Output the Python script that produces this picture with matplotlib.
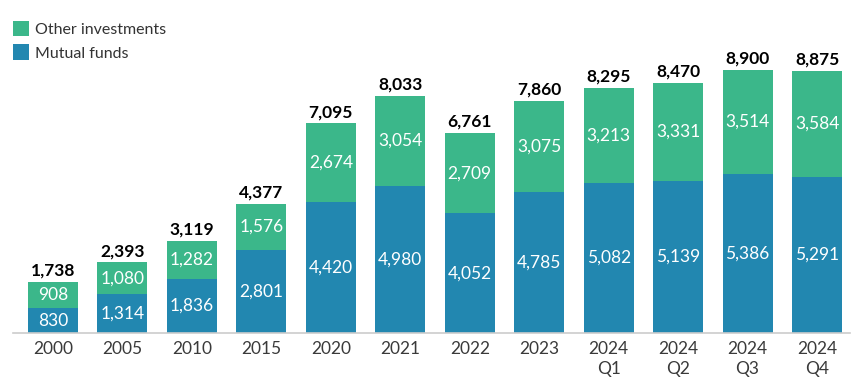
import numpy as np
import matplotlib.pyplot as plt

plt.rcParams['font.family'] = ['Lato', 'DejaVu Sans']

# jahre / kategorien
labels = ['2000', '2005', '2010', '2015', '2020', '2021', '2022', '2023',
          '2024\nQ1', '2024\nQ2', '2024\nQ3', '2024\nQ4']
mutual = [830, 1314, 1836, 2801, 4420, 4980, 4052, 4785, 5082, 5139, 5386, 5291]
other = [908, 1080, 1282, 1576, 2674, 3054, 2709, 3075, 3213, 3331, 3514, 3584]
totals = [1738, 2393, 3119, 4377, 7095, 8033, 6761, 7860, 8295, 8470, 8900, 8875]

blue = '#2287b0'
green = '#3bb78a'

fig = plt.figure(figsize=(8.54, 3.84), dpi=100)
ax = fig.add_axes([13/854, 1-333/384, 837/854, 295.5/384])

x = np.arange(len(labels))
w = 0.72
ax.bar(x, mutual, w, color=blue, label='Mutual funds')
ax.bar(x, other, w, bottom=mutual, color=green, label='Other investments')

for i in range(len(x)):
    ax.text(x[i], mutual[i]/2, f'{mutual[i]:,}', ha='center', va='center',
            color='white', fontsize=12.5)
    ax.text(x[i], mutual[i] + other[i]/2, f'{other[i]:,}', ha='center', va='center',
            color='white', fontsize=12.5)
    ax.text(x[i], totals[i] + 110, f'{totals[i]:,}', ha='center', va='bottom',
            color='black', fontsize=12.5, fontweight='bold')

ax.set_xlim(-0.576, 11.475)
ax.set_ylim(0, 10000)
ax.set_yticks([])
ax.set_xticks(x)
ax.set_xticklabels(labels, fontsize=12.5, color='#3a3a3a', linespacing=1.25)
ax.tick_params(axis='x', length=0, pad=6)
for s in ['top', 'right', 'left']:
    ax.spines[s].set_visible(False)
ax.spines['bottom'].set_color('#cccccc')
ax.spines['bottom'].set_linewidth(1.2)

h, l = ax.get_legend_handles_labels()
fig.legend(h[::-1], l[::-1], loc='upper left', bbox_to_anchor=(0.015, 0.945),
           frameon=False, fontsize=11.5, handlelength=1.0, handleheight=1.1,
           handletextpad=0.4, labelspacing=0.45, borderaxespad=0, borderpad=0,
           labelcolor='#333333')

fig.savefig('out.png', dpi=100)
